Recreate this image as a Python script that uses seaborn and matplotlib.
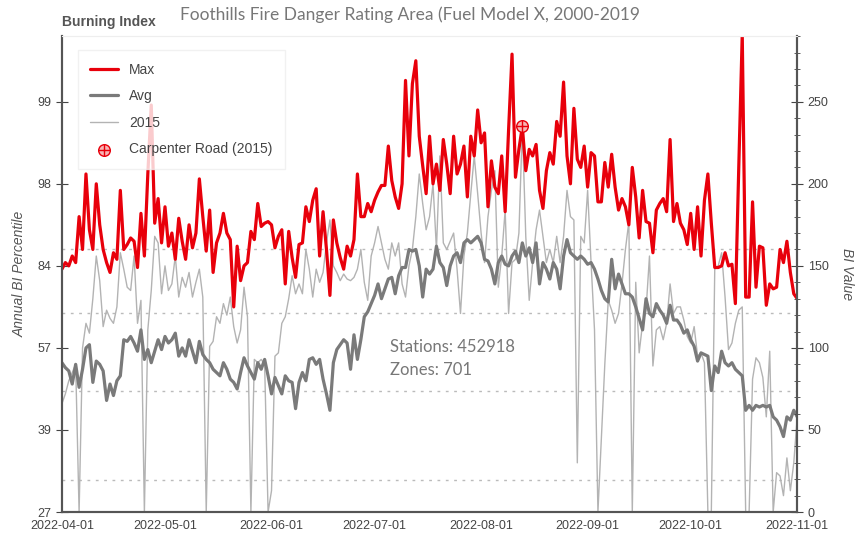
import matplotlib
matplotlib.use("Agg")
import matplotlib.pyplot as plt
import matplotlib.dates as mdates
from matplotlib.ticker import MultipleLocator
import pandas as pd
import seaborn as sns

# daily BI values, 2022-04-01 .. 2022-11-01
max_bi = [148, 152, 150, 156, 152, 180, 160, 206, 172, 160, 200, 175, 160, 152, 146, 158, 154, 196, 160, 163,
          167, 165, 149, 182, 156, 206, 248, 176, 191, 164, 186, 162, 170, 154, 179, 165, 154, 175, 161, 170,
          203, 180, 159, 184, 146, 164, 170, 182, 170, 166, 125, 162, 141, 150, 152, 171, 166, 188, 174, 176,
          177, 175, 161, 168, 172, 139, 171, 155, 143, 163, 164, 186, 177, 190, 197, 156, 183, 160, 132, 178,
          164, 155, 148, 162, 156, 166, 206, 180, 180, 188, 183, 190, 195, 199, 199, 223, 202, 192, 185, 200,
          263, 217, 261, 275, 229, 211, 194, 229, 200, 212, 196, 227, 212, 194, 229, 206, 212, 223, 192, 229,
          217, 245, 225, 231, 186, 214, 198, 194, 217, 183, 233, 279, 204, 221, 235, 208, 221, 217, 224, 196,
          185, 208, 219, 212, 238, 229, 262, 217, 200, 246, 215, 210, 223, 198, 219, 217, 189, 189, 213, 198,
          218, 198, 184, 191, 186, 175, 210, 192, 167, 196, 177, 176, 158, 184, 188, 191, 183, 227, 177, 188,
          176, 172, 163, 182, 160, 186, 156, 190, 206, 176, 149, 149, 150, 158, 150, 151, 127, 211, 291, 131,
          131, 189, 137, 162, 161, 126, 139, 136, 137, 160, 152, 165, 146, 133, 130]

avg_bi = [91, 88, 86, 78, 90, 76, 87, 100, 102, 79, 92, 90, 86, 68, 78, 71, 80, 83, 105, 104,
          107, 103, 98, 111, 93, 99, 91, 98, 105, 99, 107, 103, 105, 109, 95, 100, 95, 105, 98, 91,
          104, 96, 93, 91, 87, 85, 83, 91, 87, 81, 79, 75, 85, 94, 89, 85, 81, 91, 87, 93,
          83, 72, 82, 77, 72, 83, 80, 79, 63, 79, 85, 80, 93, 94, 90, 93, 81, 72, 62, 91,
          99, 102, 105, 103, 87, 108, 93, 105, 119, 122, 127, 132, 139, 130, 136, 142, 143, 133, 144, 149,
          149, 160, 159, 160, 150, 131, 148, 145, 148, 162, 152, 149, 138, 150, 156, 158, 152, 164, 166, 164,
          166, 168, 164, 154, 153, 148, 139, 152, 156, 151, 150, 156, 159, 152, 164, 156, 161, 152, 164, 139,
          152, 148, 142, 152, 148, 136, 156, 166, 158, 156, 154, 156, 154, 151, 152, 148, 142, 135, 130, 128,
          154, 136, 145, 139, 133, 133, 131, 125, 118, 111, 130, 121, 119, 127, 123, 120, 115, 126, 117, 117,
          114, 109, 111, 105, 101, 92, 97, 96, 95, 74, 89, 85, 98, 91, 89, 91, 87, 85, 83, 62,
          65, 62, 65, 64, 65, 64, 65, 58, 56, 52, 46, 58, 56, 62, 58]

bi_2015 = [66, 72, 80, 85, 90, 0, 100, 115, 109, 130, 156, 141, 113, 123, 118, 115, 125, 158, 148, 137,
           135, 156, 115, 129, 0, 111, 135, 168, 164, 133, 150, 135, 139, 156, 131, 143, 137, 146, 131, 140,
           148, 131, 0, 101, 104, 119, 115, 127, 120, 131, 113, 103, 111, 137, 119, 0, 93, 91, 93, 90,
           0, 13, 95, 97, 115, 119, 130, 144, 133, 139, 133, 160, 148, 131, 148, 140, 146, 164, 178, 150,
           146, 141, 145, 142, 141, 143, 148, 160, 140, 129, 156, 164, 174, 164, 154, 148, 164, 156, 164, 139,
           131, 150, 160, 180, 206, 188, 172, 180, 200, 160, 217, 164, 160, 165, 170, 148, 121, 156, 170, 194,
           217, 194, 170, 152, 180, 196, 208, 137, 156, 184, 121, 152, 154, 170, 235, 168, 129, 152, 172, 184,
           168, 152, 160, 152, 168, 152, 168, 196, 180, 178, 30, 168, 164, 196, 152, 111, 0, 45, 90, 129,
           123, 115, 121, 139, 160, 177, 0, 140, 97, 115, 123, 156, 89, 111, 113, 105, 115, 139, 121, 125,
           125, 117, 107, 103, 113, 95, 97, 91, 0, 0, 148, 150, 158, 131, 99, 103, 115, 123, 125, 0,
           0, 81, 94, 91, 82, 58, 98, 0, 24, 22, 10, 33, 13, 30, 58]

bi_ticks = [0, 50, 100, 150, 200, 250]
pct_labels = ["27", "39", "57", "84", "98", "99"]
thresholds = [160, 121, 74, 19.5]
station_day = "2022-08-13"
station_bi = 235

sns.set_style("white")
plt.rcParams["font.family"] = ["Liberation Sans", "DejaVu Sans"]

fig = plt.figure(figsize=(8.6, 5.39), dpi=100)
ax = fig.add_axes([0.072, 0.050, 0.855, 0.883])

def days(vals):
    return pd.date_range("2022-04-01", periods=len(vals), freq="D")

for t in thresholds:
    ax.axhline(t, color="#bbbbbb", lw=1, ls=(0, (2, 4)), zorder=0)

sns.lineplot(x=days(bi_2015), y=bi_2015, ax=ax, color="#b3b3b3", lw=1, label="2015")
sns.lineplot(x=days(avg_bi), y=avg_bi, ax=ax, color="#7a7a7a", lw=2.3, label="Avg")
sns.lineplot(x=days(max_bi), y=max_bi, ax=ax, color="#e8000b", lw=2.3, label="Max")

c = ax.scatter([pd.Timestamp(station_day)], [station_bi], s=70, facecolor="#f7b5b5",
               edgecolor="#e8000b", lw=1, zorder=5)
p = ax.scatter([pd.Timestamp(station_day)], [station_bi], s=70, marker="+", color="#e8000b",
               lw=1, zorder=6)

ax.set_xlim(pd.Timestamp("2022-04-01"), pd.Timestamp("2022-11-01"))
ax.set_ylim(0, 290)
ax.xaxis.set_major_locator(mdates.MonthLocator())
ax.xaxis.set_major_formatter(mdates.DateFormatter("%Y-%m-%d"))
ax.set_yticks(bi_ticks)
ax.set_yticklabels(pct_labels)
ax.tick_params(axis="x", direction="in", length=4, labelsize=9, colors="#444444", pad=6)
ax.tick_params(axis="y", direction="inout", length=8, labelsize=9, colors="#444444", left=True)
ax.set_ylabel("Annual BI Percentile", fontsize=10, style="italic", color="#555555", labelpad=8)
ax.set_xlabel("")

ax2 = ax.twinx()
ax2.set_ylim(0, 290)
ax2.set_yticks(bi_ticks)
ax2.yaxis.set_minor_locator(MultipleLocator(10))
ax2.tick_params(axis="y", which="major", direction="inout", length=8, labelsize=9, colors="#444444", right=True)
ax2.tick_params(axis="y", which="minor", direction="inout", length=5, colors="#444444", right=True)
ax2.set_ylabel("BI Value", fontsize=10, style="italic", color="#555555", rotation=-90, labelpad=18)

for a in (ax, ax2):
    a.spines["left"].set_color("#555555")
    a.spines["right"].set_color("#555555")
    a.spines["bottom"].set_color("#555555")
    a.spines["top"].set_color("#eeeeee")
    a.spines["left"].set_linewidth(1.5)
    a.spines["right"].set_linewidth(1.5)
    a.spines["bottom"].set_linewidth(1.5)

handles, labels = ax.get_legend_handles_labels()
order = [labels.index(n) for n in ["Max", "Avg", "2015"]]
leg = ax.legend([handles[i] for i in order] + [(c, p)],
                ["Max", "Avg", "2015", "Carpenter Road (2015)"],
                loc="upper left", bbox_to_anchor=(0.012, 0.985), fontsize=10,
                frameon=True, fancybox=False, edgecolor="#eeeeee", handlelength=2,
                labelspacing=0.9, borderpad=0.9, labelcolor="#444444")

fig.text(390 / 860, 1 - 347 / 539, "Stations: 452918", fontsize=12, color="#777777",
         va="center", family=["Lato", "DejaVu Sans"])
fig.text(390 / 860, 1 - 370 / 539, "Zones: 701", fontsize=12, color="#777777",
         va="center", family=["Lato", "DejaVu Sans"])
fig.text(62 / 860, 1 - 26 / 539, "Burning Index", fontsize=10, fontweight="bold", color="#555555")
fig.text(180 / 860, 1 - 20 / 539, "Foothills Fire Danger Rating Area (Fuel Model X, 2000-2019",
         fontsize=12.5, color="#777777", family=["Lato", "DejaVu Sans"])

fig.savefig("out.png", dpi=100)
